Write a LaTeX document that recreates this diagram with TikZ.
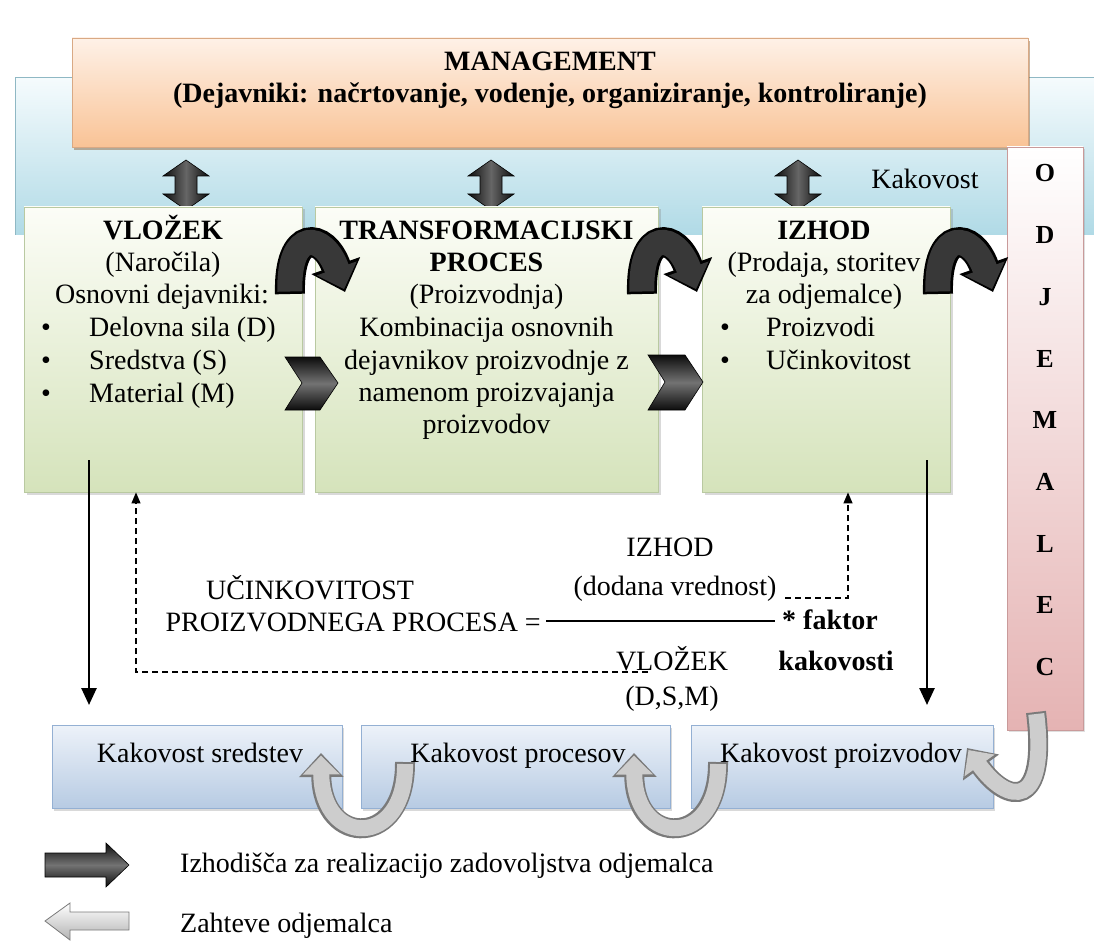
\documentclass[tikz,border=0pt]{standalone}
\usepackage{fontspec}
\setmainfont{Liberation Serif}
\usetikzlibrary{arrows.meta,shadows,calc}

\definecolor{bandtop}{HTML}{F5FBFD}
\definecolor{bandbot}{HTML}{B0DAE6}
\definecolor{bandline}{HTML}{8FB8C4}
\definecolor{mgmttop}{HTML}{FEF1E7}
\definecolor{mgmtbot}{HTML}{F9C396}
\definecolor{mgmtline}{HTML}{D9A984}
\definecolor{greentop}{HTML}{FCFDF7}
\definecolor{greenbot}{HTML}{D5E3BB}
\definecolor{greenline}{HTML}{B9C9A1}
\definecolor{pinktop}{HTML}{FFFFFF}
\definecolor{pinkbot}{HTML}{E5B3B3}
\definecolor{pinkline}{HTML}{C99A9A}
\definecolor{bluetop}{HTML}{EDF2F9}
\definecolor{bluebot}{HTML}{B7CBE3}
\definecolor{blueline}{HTML}{94B0D3}
\definecolor{greyfill}{HTML}{CDCDCD}
\definecolor{greyedge}{HTML}{7A7A7A}
\definecolor{darkfill}{HTML}{383838}

\tikzset{
  txt/.style={font=\fontsize{28}{32}\selectfont, inner sep=0pt, anchor=base},
  btxt/.style={txt, font=\fontsize{28}{32}\selectfont\bfseries},
  txtl/.style={txt, anchor=base west},
  ptxt/.style={txt, font=\fontsize{26}{30}\selectfont\bfseries},
  mgmtbox/.style={draw=mgmtline, line width=0.8pt, top color=mgmttop, bottom color=mgmtbot,
    inner sep=0pt, drop shadow={shadow xshift=1.5pt, shadow yshift=-3pt, opacity=0.45, fill=brown!70!black}},
  panel/.style={draw=greenline, line width=0.8pt, top color=greentop, bottom color=greenbot,
    inner sep=0pt, drop shadow={shadow xshift=2.5pt, shadow yshift=-2.5pt, opacity=0.3}},
  pinkbox/.style={draw=pinkline, line width=0.8pt, top color=pinktop, bottom color=pinkbot,
    inner sep=0pt, drop shadow={shadow xshift=2pt, shadow yshift=-2pt, opacity=0.25}},
  qualbox/.style={draw=blueline, line width=0.8pt, top color=bluetop, bottom color=bluebot,
    inner sep=0pt, drop shadow={shadow xshift=2pt, shadow yshift=-2.5pt, opacity=0.3}},
  solidarrow/.style={line width=2.6pt, -{Triangle[length=17pt,width=15pt]}},
  dashconn/.style={line width=1.2pt, dash pattern=on 6pt off 4pt, -{Triangle[length=11pt,width=9pt]}},
  darkblock/.style={draw=black, line width=0.6pt, top color=black!95, bottom color=black!95, middle color=black!55},
}

% vertical double block arrow between management and a panel
\newcommand\mgmtlink[1]{%
  \begin{scope}[shift={(#1,0)}]
    \path[draw=black, line width=0.6pt, left color=black!95, right color=black!95, middle color=black!60]
      (0,160) -- (-23,176) -- (-11,176) -- (-11,194) -- (-23,194) -- (0,210)
      -- (23,194) -- (11,194) -- (11,176) -- (23,176) -- cycle;
  \end{scope}}

% dark arched arrow hopping from one panel to the next
\newcommand\hoparrow[1]{%
  \begin{scope}[shift={(#1,0)}]
    \draw[line width=30pt, black, -{Triangle[length=28pt,width=50pt]}]
      (290,294) .. controls (288,228) and (324,232) .. (345,292);
    \draw[line width=25pt, darkfill, shorten >=3pt, shorten <=2.5pt, -{Triangle[length=22pt,width=41pt]}]
      (290,294) .. controls (288,228) and (324,232) .. (345,292);
  \end{scope}}

% grey U-turn arrow under the quality boxes
\newcommand\returnarrow[1]{%
  \begin{scope}[shift={(#1,0)}]
    \draw[line width=20pt, greyedge, -{Triangle[length=24pt,width=43pt]}]
      (405,762) .. controls (406,848) and (322,848) .. (321,753);
    \draw[line width=16pt, greyfill, shorten >=2.5pt, shorten <=2pt, -{Triangle[length=19pt,width=36pt]}]
      (405,762) .. controls (406,848) and (322,848) .. (321,753);
  \end{scope}}

\begin{document}
\begin{tikzpicture}[x=1pt,y=-1pt]
\useasboundingbox (0,0) rectangle (1094,941);

% quality band behind the process
\shade[top color=bandtop, bottom color=bandbot] (15,78) rectangle (1094,235);
\draw[bandline, line width=1pt] (15,235) -- (15,78) -- (1094,78);

% management
\node[mgmtbox, minimum width=956pt, minimum height=109pt] (mgmt) at (550,92.5) {};
\node[btxt] (mgmtA) at (550,71) {MANAGEMENT};
\node[btxt] (mgmtB) at (550,103) {(Dejavniki: načrtovanje, vodenje, organiziranje, kontroliranje)};

\node[txt] (kakovost) at (925,189) {Kakovost};

\mgmtlink{186}
\mgmtlink{491}
\mgmtlink{798}

% process panels
\node[panel, minimum width=278pt, minimum height=285pt] (vlozek) at (163,349.5) {};
\node[panel, minimum width=343pt, minimum height=285pt] (trans) at (486.5,349.5) {};
\node[panel, minimum width=248pt, minimum height=285pt] (izhod) at (826,349.5) {};

% customer column
\node[pinkbox, minimum width=76pt, minimum height=583pt] (odj) at (1045,438.5) {};
\foreach \L [count=\i from 0] in {O,D,J,E,M,A,L,E,C}
  \node[ptxt] (odj\i) at (1045,182+61.7*\i) {\L};

% panel texts
\node[btxt] (vA) at (163,240) {VLOŽEK};
\node[txt] (vB) at (163,272) {(Naročila)};
\node[txt] (vC) at (162,303.5) {Osnovni dejavniki:};
\node[txt] (vb1) at (46,336) {•};
\node[txtl] (vD) at (89,336) {Delovna sila (D)};
\node[txt] (vb2) at (46,369) {•};
\node[txtl] (vE) at (89,369) {Sredstva (S)};
\node[txt] (vb3) at (46,402) {•};
\node[txtl] (vF) at (89,402) {Material (M)};

\node[btxt] (tA) at (486.5,240) {TRANSFORMACIJSKI};
\node[btxt] (tB) at (486.5,272) {PROCES};
\node[txt] (tC) at (486.5,303.5) {(Proizvodnja)};
\node[txt] (tD) at (486.5,336) {Kombinacija osnovnih};
\node[txt] (tE) at (486.5,369) {dejavnikov proizvodnje z};
\node[txt] (tF) at (486.5,401) {namenom proizvajanja};
\node[txt] (tG) at (486.5,433) {proizvodov};

\node[btxt] (iA) at (824,240) {IZHOD};
\node[txt] (iB) at (824,272) {(Prodaja, storitev};
\node[txt] (iC) at (824,303.5) {za odjemalce)};
\node[txt] (ib1) at (725,336) {•};
\node[txtl] (iD) at (766,336) {Proizvodi};
\node[txt] (ib2) at (725,369) {•};
\node[txtl] (iE) at (766,369) {Učinkovitost};

% flow arrows between panels
\hoparrow{0}
\hoparrow{352}
\hoparrow{648}
\path[darkblock] (285,357) -- (320,357) -- (338,383) -- (320,410) -- (285,410) -- (302,383) -- cycle;
\path[darkblock] (648,355) -- (685,355) -- (703,382) -- (685,410) -- (648,410) -- (665,382) -- cycle;

% efficiency formula
\node[txt] (fA) at (310,599) {UČINKOVITOST};
\node[txt, anchor=base east] (fB) at (541,631) {PROIZVODNEGA PROCESA =};
\node[txt] (fC) at (670,556) {IZHOD};
\node[txt] (fD) at (675,595) {(dodana vrednost)};
\draw[line width=1.2pt] (546,621) -- (775,621);
\node[btxt, anchor=base west] (fE) at (782,629) {* faktor};
\node[txt] (fF) at (672,670) {VLOŽEK};
\node[btxt] (fG) at (836,670) {kakovosti};
\node[txt] (fH) at (672,705) {(D,S,M)};

% feedback (dashed) and output (solid) arrows
\coordinate (dA1) at (648,672);
\coordinate (dA2) at (136,672);
\draw[dashconn] (dA1) -- (dA2) -- (dA2 |- vlozek.south);
\coordinate (dB1) at (785,598);
\coordinate (dB2) at (848,598);
\draw[dashconn] (dB1) -- (dB2) -- (dB2 |- izhod.south);

\coordinate (sA1) at (89,460);
\coordinate (sA2) at (89,705);
\draw[solidarrow] (sA1) -- (sA2);
\coordinate (sB1) at (927,460);
\coordinate (sB2) at (927,705);
\draw[solidarrow] (sB1) -- (sB2);

% quality boxes
\node[qualbox, minimum width=290pt, minimum height=83pt] (q1) at (197,766.5) {};
\node[qualbox, minimum width=309pt, minimum height=83pt] (q2) at (515.5,766.5) {};
\node[qualbox, minimum width=302pt, minimum height=83pt] (q3) at (842,766.5) {};
\node[txt] (q1t) at (200,762) {Kakovost sredstev};
\node[txt] (q2t) at (518,762) {Kakovost procesov};
\node[txt] (q3t) at (841,762) {Kakovost proizvodov};

% customer requirements flowing back
\returnarrow{0}
\returnarrow{313}
\draw[line width=20pt, greyedge, -{Triangle[length=24pt,width=43pt]}]
  (1036,712) .. controls (1048,810) and (1008,805) .. (967,748);
\draw[line width=16pt, greyfill, shorten >=2.5pt, shorten <=2pt, -{Triangle[length=19pt,width=36pt]}]
  (1036,712) .. controls (1048,810) and (1008,805) .. (967,748);

% legend
\path[darkblock] (45,853) -- (106,853) -- (106,843) -- (129,865) -- (106,887) -- (106,877) -- (45,877) -- cycle;
\node[txtl] (legA) at (180,872) {Izhodišča za realizacijo zadovoljstva odjemalca};
\path[draw=greyedge, line width=0.8pt, top color=white, bottom color=black!30]
  (45,921) -- (70,903) -- (70,912) -- (129,912) -- (129,930) -- (70,930) -- (70,940) -- cycle;
\node[txtl] (legB) at (180,932) {Zahteve odjemalca};
\end{tikzpicture}
\end{document}
